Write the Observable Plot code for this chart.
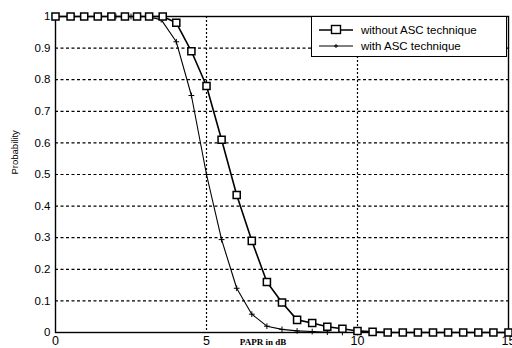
<!DOCTYPE html>
<html>
<head>
<meta charset="utf-8">
<script src="https://cdn.jsdelivr.net/npm/d3@7"></script>
<script src="https://cdn.jsdelivr.net/npm/@observablehq/plot@0.6"></script>
<style>
  html, body { margin: 0; padding: 0; background: #fff; }
  #wrap { position: relative; width: 512px; height: 348px; overflow: hidden; }
  #legend { position: absolute; left: 311px; top: 16px; width: 196px; height: 41px;
    border: 1px solid #000; background: #fff; box-sizing: border-box;
    font-family: "Liberation Sans", Arial, sans-serif; font-size: 11.5px; color: #000; }
  #legend svg { position: absolute; left: 0; top: 0; }
</style>
</head>
<body>
<div id="wrap"></div>
<script>
// PAPR (dB) sample points and CCDF probabilities
const xWithout = [0, 0.5, 0.95, 1.4, 1.85, 2.3, 2.7, 3.1, 3.55, 4, 4.5, 5, 5.5, 6, 6.5, 7, 7.5, 8, 8.5, 9, 9.5, 10, 10.5, 11, 11.5, 12, 12.5, 13, 13.5, 14, 14.5, 15];
const yWithout = [1, 1, 1, 1, 1, 1, 1, 1, 1, 0.98, 0.89, 0.78, 0.61, 0.435, 0.29, 0.16, 0.095, 0.04, 0.03, 0.018, 0.012, 0.005, 0.002, 0, 0, 0, 0, 0, 0, 0, 0, 0];
const xWith = [0, 0.5, 1, 1.5, 2, 2.5, 3, 3.5, 4, 4.5, 5, 5.5, 6, 6.5, 7, 7.5, 8, 8.5, 9, 9.5, 10, 10.5, 11, 11.5, 12, 12.5, 13, 13.5, 14, 14.5, 15];
const yWith = [1, 1, 1, 1, 1, 1, 1, 0.99, 0.92, 0.75, 0.5, 0.294, 0.14, 0.058, 0.02, 0.01, 0.005, 0.003, 0.001, 0, 0, 0, 0, 0, 0, 0, 0, 0, 0, 0, 0];
const xTicks = [0, 5, 10, 15];
const yTicks = [0, 0.1, 0.2, 0.3, 0.4, 0.5, 0.6, 0.7, 0.8, 0.9, 1];
const yGrid = [0.1, 0.2, 0.3, 0.4, 0.5, 0.6, 0.7, 0.8, 0.9];
const xGrid = [5, 10];
const seriesNames = ["without ASC technique", "with ASC technique"];

const without = xWithout.map((x, i) => ({x, y: yWithout[i]}));
const withAsc = xWith.map((x, i) => ({x, y: yWith[i]}));

const chart = Plot.plot({
  width: 512,
  height: 348,
  marginLeft: 55,
  marginRight: 4,
  marginTop: 16,
  marginBottom: 16,
  style: {fontFamily: "Liberation Sans, Arial, sans-serif", background: "#fff", overflow: "visible"},
  x: {type: "linear", domain: [0, 15], label: null},
  y: {type: "linear", domain: [0, 1], label: null},
  marks: [
    Plot.ruleY(yGrid, {stroke: "#000", strokeWidth: 1.2, strokeDasharray: "3,2.5"}),
    Plot.ruleX(xGrid, {stroke: "#000", strokeWidth: 1.2, strokeDasharray: "2,2"}),
    Plot.frame({stroke: "#000", strokeWidth: 1.4}),
    Plot.axisX({ticks: xTicks, tickSize: 0, tickPadding: 4, fontSize: 12.5, label: null, tickFormat: d => String(d)}),
    Plot.axisY({ticks: yTicks, tickSize: 0, tickPadding: 5, fontSize: 11.5, label: null, tickFormat: d => d === 0 ? "0" : d === 1 ? "1" : String(d)}),
    Plot.text(["PAPR in dB"], {frameAnchor: "bottom", dx: -19, dy: 12, fontFamily: "Liberation Serif, Times New Roman, serif", fontSize: 9, fontWeight: "bold", fill: "#000"}),
    Plot.text(["Probability"], {frameAnchor: "left", dx: -41, rotate: -90, fontSize: 9.5, fill: "#000"}),
    Plot.line(withAsc, {x: "x", y: "y", stroke: "#000", strokeWidth: 1.1}),
    Plot.dot(withAsc, {x: "x", y: "y", symbol: "plus", r: 2, stroke: "#000", strokeWidth: 1}),
    Plot.line(without, {x: "x", y: "y", stroke: "#000", strokeWidth: 1.6}),
    Plot.dot(without, {x: "x", y: "y", symbol: "square", r: 4, stroke: "#000", strokeWidth: 1.5, fill: "#fff"})
  ]
});
const wrap = document.getElementById("wrap");
wrap.appendChild(chart);

const leg = document.createElement("div");
leg.id = "legend";
leg.innerHTML = `
<svg width="196" height="41">
  <line x1="7" x2="41" y1="13" y2="13" stroke="#000" stroke-width="1.6"/>
  <rect x="19.5" y="8.5" width="9" height="8" fill="#fff" stroke="#000" stroke-width="1.4"/>
  <line x1="7" x2="41" y1="29" y2="29" stroke="#000" stroke-width="1.1"/>
  <path d="M24,27v4M22,29h4" stroke="#000" stroke-width="1"/>
  <text x="49" y="17" font-size="11.5" font-family="Liberation Sans, Arial, sans-serif">${seriesNames[0]}</text>
  <text x="49" y="33" font-size="11.5" font-family="Liberation Sans, Arial, sans-serif">${seriesNames[1]}</text>
</svg>`;
wrap.appendChild(leg);
</script>
</body>
</html>
